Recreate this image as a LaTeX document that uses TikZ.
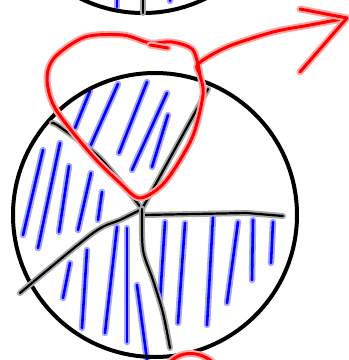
\documentclass[tikz,border=0pt]{standalone}
\usetikzlibrary{arrows.meta}

\tikzset{
  rim/.style={draw=black, line width=4pt},
  hatch/.style={draw=blue, line width=2.6pt, line cap=round,
    preaction={draw=blue!35, line width=6.5pt, line cap=round}},
  spoke/.style={draw=black, line width=2.2pt, line cap=round, line join=round,
    preaction={draw=gray!70, line width=6pt, line cap=round, line join=round}},
  pen/.style={draw=red, line width=3pt, line cap=round, line join=round,
    preaction={draw=red!35, line width=7pt, line cap=round, line join=round}}
}

\begin{document}
\begin{tikzpicture}[x=1pt, y=-1pt]
  \clip (0,0) rectangle (349,360);

  % hatching
  \foreach \ax/\ay/\bx/\by in {90/91/75/128, 118/84/90/147, 147/82/119/153, 167/93/132/170, 168/115/152/167,
      43/150/23/235, 60/143/38/248, 69/166/59/232, 91/173/78/230, 102/192/98/220,
      70/263/63/298, 87/250/82/328, 117/227/105/333, 127/228/127/342, 137/285/147/360,
      165/222/160/300, 185/223/178/323, 213/217/207/325, 238/222/227/303, 253/220/252/280, 273/222/271/263}
    \draw[hatch] (\ax,\ay) -- (\bx,\by);
  \draw[hatch] (117,-5) -- (117,7);
  \draw[hatch] (171,-5) -- (170,1);

  % circles
  \draw[rim] (143,-129) circle (142pt);
  \draw[rim] (155,215) circle (142pt);

  % spokes
  \coordinate (hub) at (142,209);
  \draw[spoke] (143,-5) -- (143,13);
  \draw[spoke] plot[smooth] coordinates {(hub) (100,158) (60,127) (52,123)};
  \draw[spoke] (hub) -- (208,89);
  \draw[spoke] (hub) -- (143,215) -- (247,213) -- (283,216);
  \draw[spoke] plot[smooth] coordinates {(hub) (120,220) (93,233) (20,293)};
  \draw[spoke] plot[smooth] coordinates {(hub) (143,250) (153,280) (163,313) (170,348)};

  % red arrow
  \draw[pen] plot[smooth] coordinates {(200,75) (193,50) (172,42) (150,43) (123,35) (85,37) (55,57) (47,78)
      (55,108) (90,153) (120,183) (140,198) (165,182) (192,138) (203,95) (200,75) (198,64)
      (227,47) (273,32) (310,25) (347,18)};
  \draw[pen] (300,9) -- (347,18) -- (300,72);
  \draw[pen] (150,45) -- (168,48);
  \draw[pen] (168,364) .. controls (180,350) and (200,350) .. (215,364);
\end{tikzpicture}
\end{document}
